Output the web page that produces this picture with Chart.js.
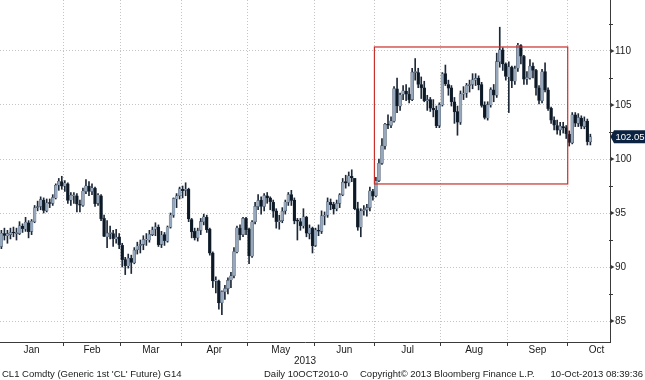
<!DOCTYPE html>
<html>
<head>
<meta charset="utf-8">
<script src="https://cdn.jsdelivr.net/npm/chart.js@4.4.1/dist/chart.umd.min.js"></script>
<style>
html,body{margin:0;padding:0;background:#fff;}
#wrap{position:relative;width:645px;height:380px;overflow:hidden;font-family:'Liberation Sans',Arial,sans-serif;}
#c{position:absolute;left:0;top:0;}
.ft{position:absolute;top:368px;font-size:9.5px;line-height:12px;color:#1a1a1a;white-space:nowrap;}
</style>
</head>
<body>
<div id="wrap">
<canvas id="c" width="645" height="380"></canvas>
<div class="ft" id="f1" style="left:2px"></div>
<div class="ft" id="f2" style="left:264px"></div>
<div class="ft" id="f3" style="left:360px"></div>
<div class="ft" id="f4" style="right:2px"></div>
</div>
<script>
// ---------------- DATA ----------------
const monthKeys = ['2012-12','2013-01','2013-02','2013-03','2013-04','2013-05','2013-06','2013-07','2013-08','2013-09','2013-10'];
const monthLabels = ['', 'Jan','Feb','Mar','Apr','May','Jun','Jul','Aug','Sep','Oct'];
const tradingDays = [
  [31],
  [2,3,4,7,8,9,10,11,14,15,16,17,18,22,23,24,25,28,29,30,31],
  [1,4,5,6,7,8,11,12,13,14,15,19,20,21,22,25,26,27,28],
  [1,4,5,6,7,8,11,12,13,14,15,18,19,20,21,22,25,26,27,28],
  [1,2,3,4,5,8,9,10,11,12,15,16,17,18,19,22,23,24,25,26,29,30],
  [1,2,3,6,7,8,9,10,13,14,15,16,17,20,21,22,23,24,28,29,30,31],
  [3,4,5,6,7,10,11,12,13,14,17,18,19,20,21,24,25,26,27,28],
  [1,2,3,5,8,9,10,11,12,15,16,17,18,19,22,23,24,25,26,29,30,31],
  [1,2,5,6,7,8,9,12,13,14,15,16,19,20,21,22,23,26,27,28,29,30],
  [3,4,5,6,9,10,11,12,13,16,17,18,19,20,23,24,25,26,27,30],
  [1,2,3,4,7,8,9,10]
];

const openP = [92.5,
  91.9,93.1,92.9,93.0,93.2,93.1,93.1,93.8,93.5,94.1,93.3,94.2,95.5,95.6,96.2,95.2,95.9,95.9,96.4,97.6,97.9,
  97.5,97.7,96.2,96.6,96.6,95.8,95.7,97.0,97.5,97.0,97.3,95.9,96.6,94.5,92.8,93.1,93.1,92.6,92.8,
  92.0,90.7,90.1,90.8,90.4,91.6,92.0,92.1,92.5,92.5,93.0,93.5,93.7,92.1,93.0,92.4,93.7,94.8,96.3,96.6,
  97.2,97.1,97.2,94.4,93.3,92.7,93.4,94.2,94.6,93.5,91.3,88.7,88.7,86.7,87.7,88.0,88.8,89.2,91.4,93.6,93.0,94.5,
  93.5,91.0,94.2,95.6,96.2,95.6,96.6,96.4,96.0,95.2,94.2,94.3,95.2,96.0,96.7,96.2,94.3,94.2,93.8,94.6,93.1,93.6,
  92.0,93.4,93.3,94.7,94.8,96.0,95.8,95.4,95.9,96.7,97.9,97.8,98.4,98.2,95.4,93.7,95.2,95.3,95.5,97.0,
  96.6,98.0,99.6,101.2,103.2,103.1,103.5,106.5,104.9,106.0,106.3,106.0,105.5,108.0,108.0,106.9,106.6,105.4,105.5,104.7,104.5,103.1,
  105.0,107.9,106.9,106.6,105.3,104.4,103.4,106.0,106.1,106.8,106.9,107.3,107.5,106.9,105.0,103.8,105.0,106.4,105.9,109.0,110.1,108.8,
  107.6,108.5,107.2,108.4,110.5,109.5,107.4,107.5,108.6,108.2,106.6,105.4,108.1,106.4,104.7,103.6,103.1,102.7,103.0,102.9,
  102.3,101.5,104.1,103.3,103.8,103.0,103.5,101.6];

const highP = [92.8,
  93.4,93.6,93.4,93.6,93.7,93.6,94.2,94.0,94.6,94.3,94.4,95.7,96.1,96.5,96.4,96.3,96.3,96.7,97.7,98.2,98.4,
  98.0,97.8,96.9,96.9,96.8,96.2,97.3,98.1,97.9,97.7,97.4,96.8,96.7,94.8,94.3,93.8,93.4,93.5,93.1,
  92.2,90.9,91.2,91.1,91.8,92.3,92.5,92.9,93.1,93.4,93.7,94.1,93.9,93.3,93.2,93.8,95.0,96.4,96.8,97.4,
  97.5,97.8,97.3,94.5,93.6,93.6,94.5,94.9,94.8,93.6,91.4,89.1,88.8,87.8,88.3,89.0,89.5,91.8,93.8,93.9,94.6,94.6,
  93.6,94.3,96.0,96.7,96.5,96.8,96.9,96.5,96.2,95.4,94.8,95.5,96.2,96.9,97.1,96.4,94.5,94.5,95.4,94.7,93.9,93.7,
  93.6,93.9,95.2,95.1,96.4,96.3,96.0,96.2,96.8,98.2,98.5,98.8,99.0,98.2,96.0,95.4,95.7,95.8,97.4,97.2,
  98.3,100.0,101.9,103.3,104.1,103.9,106.7,107.5,106.1,106.8,106.9,106.6,108.4,109.3,108.4,107.6,107.2,105.9,105.7,105.5,104.9,105.2,
  108.0,108.7,107.3,106.8,105.7,104.9,106.3,106.7,107.0,107.3,107.9,107.9,107.7,107.1,105.3,105.3,106.6,106.9,109.8,112.2,110.3,108.9,
  109.0,108.6,108.6,110.7,110.6,109.6,108.1,109.2,108.9,108.3,106.8,108.3,108.9,106.6,104.8,103.9,103.6,103.4,103.4,103.1,
  102.6,104.3,104.3,104.2,104.0,103.9,103.7,102.3];

const lowP = [90.4,
  91.7,92.5,92.2,92.6,92.8,92.5,93.0,93.2,93.3,92.7,93.0,94.1,95.2,95.3,95.0,95.1,95.5,95.7,96.3,97.1,97.2,
  97.0,95.9,95.7,95.9,95.1,95.1,95.6,96.8,96.6,96.7,95.6,95.7,94.3,92.8,91.8,92.6,91.9,92.2,91.7,
  90.0,89.3,89.9,89.4,90.3,91.2,91.3,91.6,92.0,92.3,92.9,92.9,91.9,91.8,92.0,92.3,93.6,94.6,95.5,96.3,
  96.4,96.6,94.2,92.7,92.5,92.4,93.0,93.9,93.2,91.1,88.1,87.6,86.1,85.6,87.0,87.5,88.1,89.0,91.3,92.5,92.8,93.0,
  90.3,90.9,94.0,95.3,94.9,95.2,95.9,95.3,94.6,93.6,93.5,94.1,94.9,95.7,95.7,94.0,92.5,93.4,93.6,92.8,92.6,91.3,
  91.9,92.9,93.1,93.9,94.6,95.3,94.9,95.2,95.5,96.6,97.3,97.5,97.9,95.3,93.4,92.8,94.8,94.7,95.2,96.2,
  96.5,97.9,99.5,100.9,102.8,102.9,103.4,104.3,104.5,105.5,105.4,105.2,105.4,107.3,106.6,105.6,105.3,104.5,104.4,103.9,102.9,102.9,
  104.9,106.8,105.9,104.9,103.3,102.2,103.2,105.5,105.7,106.2,106.5,106.8,106.4,104.8,103.7,103.6,104.8,105.3,105.7,108.5,108.2,107.3,
  104.3,106.6,106.9,108.1,108.8,106.9,106.9,107.4,107.5,105.9,105.1,105.2,106.2,104.5,103.3,102.7,102.3,102.2,102.4,101.9,
  101.2,101.4,103.0,103.0,102.8,102.8,101.3,101.3];

const closeP = [91.8,
  93.12,92.92,93.09,93.19,93.15,93.10,93.82,93.56,94.14,93.28,94.24,95.49,95.56,96.24,95.23,95.95,95.88,96.44,97.57,97.94,97.49,
  97.77,96.17,96.64,96.62,95.83,95.72,97.03,97.51,97.01,97.31,95.86,96.66,94.46,92.84,93.13,93.11,92.63,92.76,92.05,
  90.68,90.12,90.82,90.43,91.56,91.95,92.06,92.54,92.52,93.03,93.45,93.73,92.06,92.96,92.45,93.71,94.81,96.34,96.58,97.23,
  97.07,97.19,94.45,93.26,92.70,93.36,94.20,94.64,93.46,91.29,88.71,88.72,86.68,87.73,88.01,88.76,89.18,91.44,93.64,92.99,94.50,93.46,
  91.03,94.16,95.61,96.16,95.62,96.62,96.39,96.04,95.17,94.21,94.30,95.16,96.02,96.71,96.16,94.28,94.25,93.84,94.65,93.13,93.61,91.97,
  93.45,93.31,94.74,94.76,96.03,95.77,95.38,95.88,96.69,97.85,97.77,98.44,98.24,95.40,93.69,95.18,95.32,95.50,97.05,96.56,
  97.99,99.60,101.24,103.22,103.14,103.53,106.52,104.91,105.95,106.32,106.00,105.48,108.04,108.05,106.91,106.59,105.39,105.49,104.70,104.55,103.08,105.03,
  107.89,106.94,106.56,105.30,104.37,103.40,106.03,106.11,106.83,106.85,107.33,107.46,106.86,104.96,103.85,105.03,106.42,105.92,109.01,110.10,108.80,107.65,
  108.54,107.23,108.37,110.53,109.52,107.39,107.55,108.60,108.21,106.59,105.42,108.07,106.39,104.67,103.59,103.13,102.66,103.03,102.87,102.33,
  101.53,104.10,103.31,103.84,103.03,103.49,101.61,102.05];

const yTicks = [85, 90, 95, 100, 105, 110];
const yMinorTicks = [87.5, 92.5, 97.5, 102.5, 107.5, 112.5];
const axisTitle = '2013';
const boxFromMonth = 'Jul';
const boxToMonth = 'Oct';
const boxTop = 110.37;
const boxBottom = 97.69;
const footer = ["CL1 Comdty (Generic 1st 'CL' Future) G14", 'Daily 10OCT2010-0', 'Copyright\u00A9 2013 Bloomberg Finance L.P.', '10-Oct-2013 08:39:36'];

// ---------------- BUILD ----------------
const FONT = "'Liberation Sans', Arial, sans-serif";
const dates = [];
const monthStart = [];
tradingDays.forEach((days, m) => {
  monthStart.push(dates.length);
  days.forEach(d => dates.push(monthKeys[m] + '-' + String(d).padStart(2, '0')));
});
const xMin = 0.54, xMax = 202.5;
const yMin = 83.06, yMax = 114.72;

const boundaries = monthStart.slice(1).map(s => s - 0.5).filter(v => v > xMin && v < xMax);
const xTickVals = [], xTickLabels = [], xTickIsBoundary = [];
boundaries.forEach(b => { xTickVals.push(b); xTickLabels.push(''); xTickIsBoundary.push(true); });
for (let m = 1; m < monthStart.length; m++) {
  const s = monthStart[m] - 0.5;
  const isLast = m === monthStart.length - 1;
  const e = isLast ? xMax : monthStart[m + 1] - 0.5;
  const c = isLast ? s + (e - s) * 0.68 : (s + e) / 2;
  xTickVals.push(c); xTickLabels.push(monthLabels[m]); xTickIsBoundary.push(false);
}

const UP = '#97a8bd', DOWN = '#0e1926', WICK = '#1d2939', EDGE = '#2a3849';
const bodyData = [], wickData = [], bodyColors = [];
for (let i = 0; i < dates.length; i++) {
  wickData.push({ x: i, y: [lowP[i], highP[i]] });
  bodyData.push({ x: i, y: [openP[i], closeP[i]] });
  bodyColors.push(closeP[i] >= openP[i] ? UP : DOWN);
}

document.getElementById('f1').textContent = footer[0];
document.getElementById('f2').textContent = footer[1];
document.getElementById('f3').textContent = footer[2];
document.getElementById('f4').textContent = footer[3];

const AXIS = '#3a3a3a', GRID = '#c4c4c4', TXT = '#1a1a1a';

const overlay = {
  id: 'overlay',
  afterDatasetsDraw(chart) {
    const ctx = chart.ctx, xs = chart.scales.x, ys = chart.scales.y;
    const x1 = xs.getPixelForValue(monthStart[monthLabels.indexOf(boxFromMonth)] - 0.5);
    const x2 = xs.getPixelForValue(monthStart[monthLabels.indexOf(boxToMonth)] - 0.5);
    const y1 = ys.getPixelForValue(boxTop), y2 = ys.getPixelForValue(boxBottom);
    ctx.save();
    ctx.strokeStyle = '#c9302c';
    ctx.lineWidth = 1.2;
    ctx.strokeRect(x1, y1, x2 - x1, y2 - y1);
    ctx.restore();
  },
  afterDraw(chart) {
    const ctx = chart.ctx, ys = chart.scales.y;
    const ax = chart.chartArea.right;
    ctx.save();
    ctx.fillStyle = AXIS; ctx.strokeStyle = AXIS; ctx.lineWidth = 1;
    yTicks.forEach(v => {
      const y = ys.getPixelForValue(v);
      ctx.beginPath(); ctx.moveTo(ax, y - 2.5); ctx.lineTo(ax + 4.5, y); ctx.lineTo(ax, y + 2.5); ctx.closePath(); ctx.fill();
    });
    yMinorTicks.forEach(v => {
      const y = Math.round(ys.getPixelForValue(v)) + 0.5;
      ctx.beginPath(); ctx.moveTo(ax - 1, y); ctx.lineTo(ax + 3, y); ctx.stroke();
    });
    // last price tag
    const last = closeP[closeP.length - 1];
    const ty = ys.getPixelForValue(last);
    const h = 13, left = ax + 4, right = 645;
    ctx.fillStyle = '#0b2240';
    ctx.beginPath();
    ctx.moveTo(ax + 0.5, ty);
    ctx.lineTo(left, ty - h / 2);
    ctx.lineTo(right, ty - h / 2);
    ctx.lineTo(right, ty + h / 2);
    ctx.lineTo(left, ty + h / 2);
    ctx.closePath();
    ctx.fill();
    ctx.fillStyle = '#ffffff';
    ctx.font = '9.5px ' + FONT;
    ctx.textBaseline = 'middle';
    ctx.textAlign = 'left';
    ctx.fillText(last.toFixed(2), ax + 5.5, ty + 0.5);
    ctx.restore();
  }
};

new Chart(document.getElementById('c'), {
  type: 'bar',
  data: {
    datasets: [
      { label: 'body', data: bodyData, backgroundColor: bodyColors, borderColor: EDGE, borderWidth: 0.35, borderSkipped: false,
        barThickness: 2.8, minBarLength: 1, grouped: false, order: 1 },
      { label: 'range', data: wickData, backgroundColor: WICK, barThickness: 1, grouped: false, order: 2, borderWidth: 0 }
    ]
  },
  options: {
    responsive: false,
    devicePixelRatio: 1,
    animation: false,
    layout: { padding: 0 },
    plugins: { legend: { display: false }, tooltip: { enabled: false } },
    scales: {
      x: {
        type: 'linear', min: xMin, max: xMax, offset: false, bounds: 'data',
        afterBuildTicks: s => { s.ticks = xTickVals.map(v => ({ value: v })); },
        afterFit: s => { s.height = 38; s.paddingLeft = 0; s.paddingRight = 0; },
        grid: {
          offset: false,
          color: c => (c.tick && xTickIsBoundary[c.index]) ? GRID : 'rgba(0,0,0,0)',
          lineWidth: 1,
          drawTicks: true, tickLength: 4, tickWidth: 1,
          tickColor: c => (c.tick && xTickIsBoundary[c.index]) ? AXIS : 'rgba(0,0,0,0)'
        },
        border: { display: true, color: AXIS, width: 1, dash: [1, 2] },
        ticks: {
          autoSkip: false, maxRotation: 0, minRotation: 0, padding: -2, color: TXT,
          font: { family: FONT, size: 10 },
          callback: (v, i) => xTickLabels[i]
        },
        title: { display: true, text: axisTitle, color: TXT, font: { family: FONT, size: 10 }, padding: { top: 0, bottom: 12.5 } }
      },
      y: {
        position: 'right', min: yMin, max: yMax, bounds: 'data',
        afterBuildTicks: s => { s.ticks = yTicks.map(v => ({ value: v })); },
        afterFit: s => { s.width = 35; s.paddingTop = 0; s.paddingBottom = 0; },
        grid: { color: GRID, lineWidth: 1, drawTicks: false },
        border: { display: true, color: AXIS, width: 1, dash: [1, 2] },
        ticks: { padding: 5, color: TXT, font: { family: FONT, size: 10 }, callback: v => String(v) }
      }
    }
  },
  plugins: [overlay]
});
</script>
</body>
</html>
